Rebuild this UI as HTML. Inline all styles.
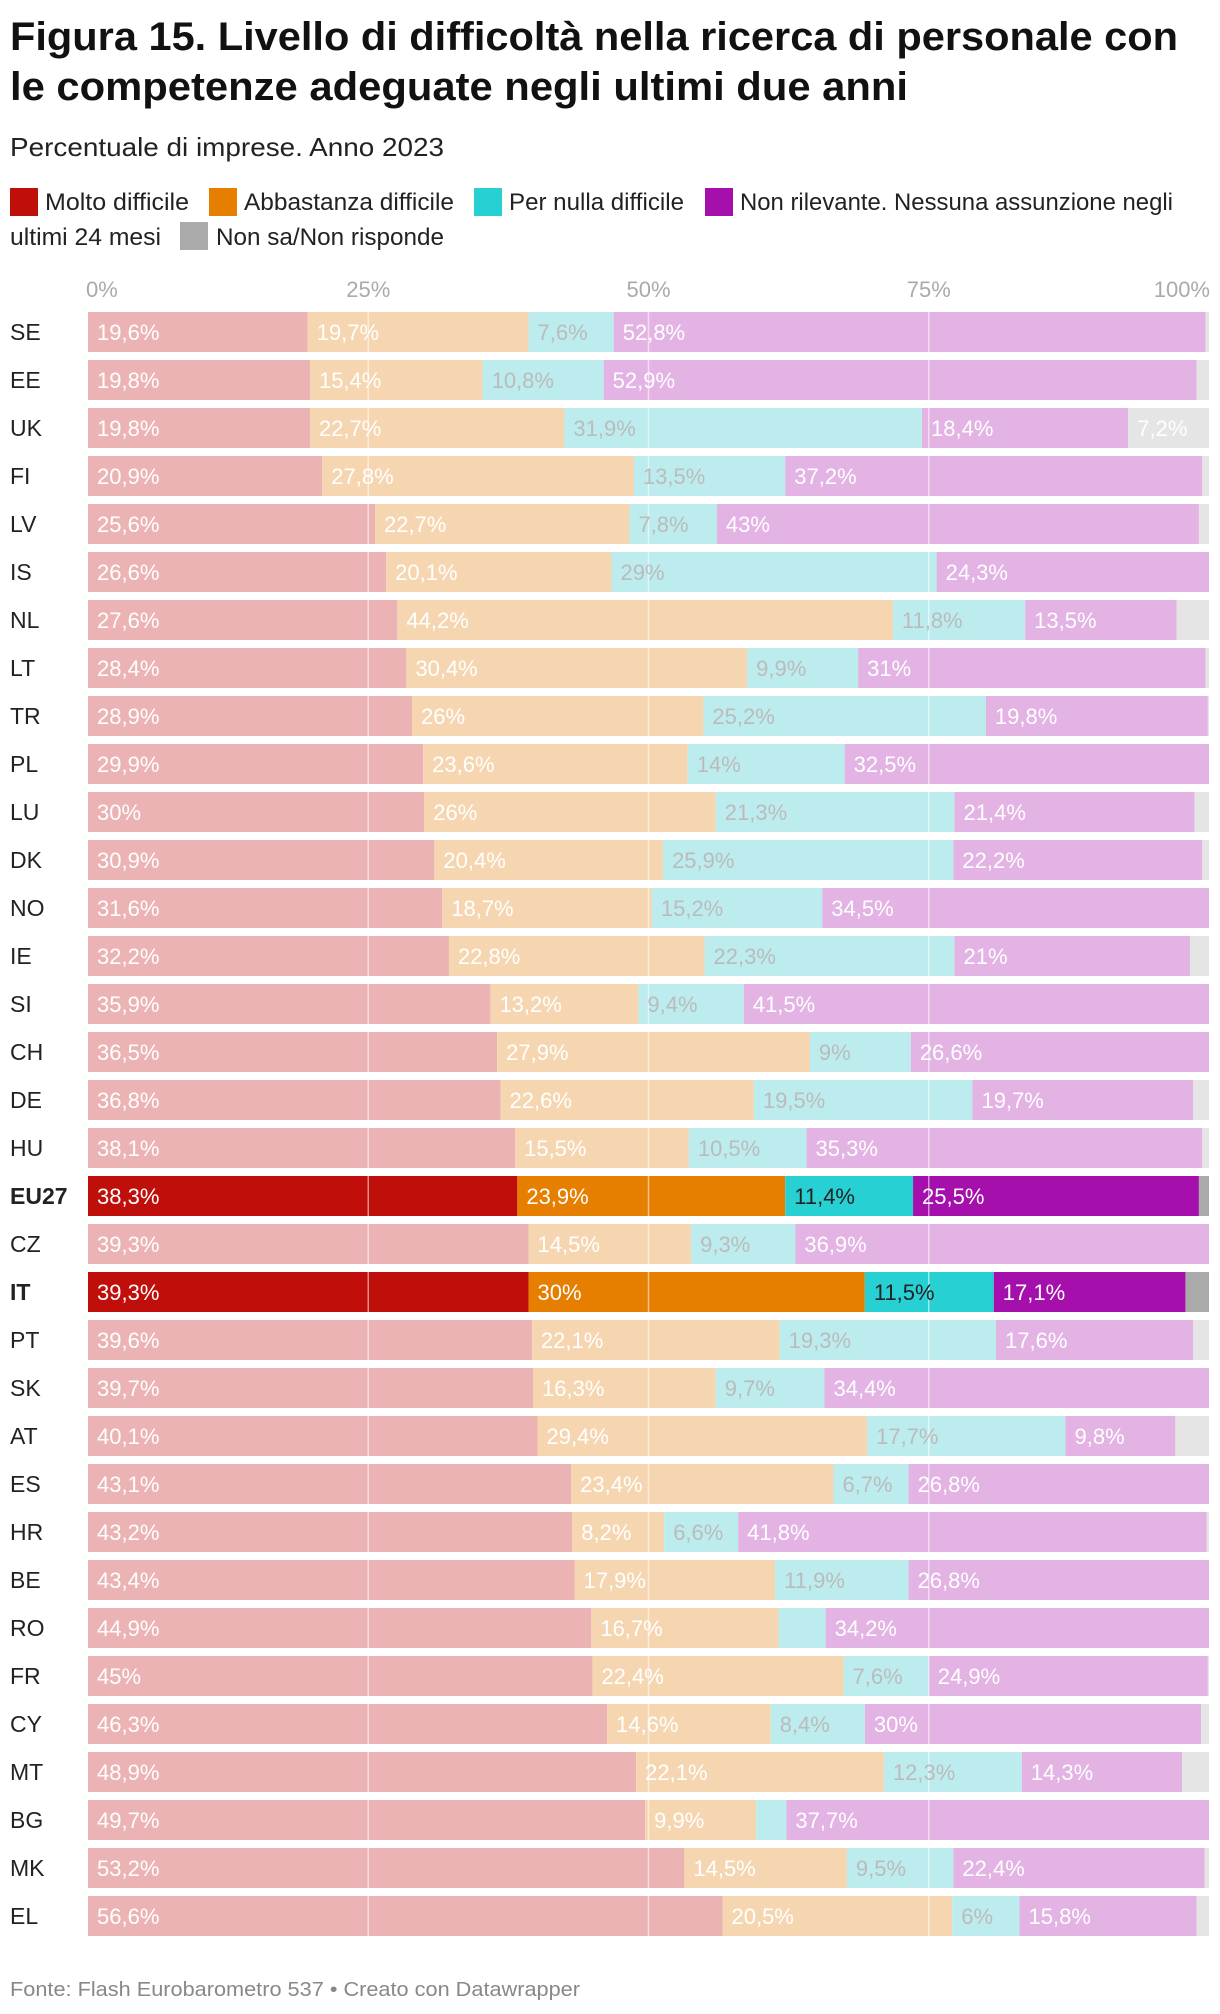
<!DOCTYPE html>
<html><head><meta charset="utf-8"><style>
html,body{margin:0;padding:0;background:#fff;}
svg{display:block;font-family:"Liberation Sans",sans-serif;}
</style></head><body>
<svg id="chart" width="1220" height="2014" viewBox="0 0 1220 2014" xmlns="http://www.w3.org/2000/svg">
<text x="10" y="50" font-size="40" font-weight="bold" fill="#111" textLength="1168" lengthAdjust="spacingAndGlyphs">Figura 15. Livello di difficoltà nella ricerca di personale con</text>
<text x="10" y="100" font-size="40" font-weight="bold" fill="#111" textLength="898" lengthAdjust="spacingAndGlyphs">le competenze adeguate negli ultimi due anni</text>
<text x="10" y="156" font-size="26" fill="#222" textLength="434" lengthAdjust="spacingAndGlyphs">Percentuale di imprese. Anno 2023</text>
<g font-size="24" fill="#222">
<rect x="10" y="188" width="28" height="28" fill="#c00f0b"/>
<text x="45" y="210" textLength="144" lengthAdjust="spacingAndGlyphs">Molto difficile</text>
<rect x="209" y="188" width="28" height="28" fill="#e67e00"/>
<text x="244" y="210" textLength="210" lengthAdjust="spacingAndGlyphs">Abbastanza difficile</text>
<rect x="474" y="188" width="28" height="28" fill="#27d0d3"/>
<text x="509" y="210" textLength="175" lengthAdjust="spacingAndGlyphs">Per nulla difficile</text>
<rect x="705" y="188" width="28" height="28" fill="#a50fab"/>
<text x="740" y="210" textLength="433" lengthAdjust="spacingAndGlyphs">Non rilevante. Nessuna assunzione negli</text>
<text x="10" y="245" textLength="151" lengthAdjust="spacingAndGlyphs">ultimi 24 mesi</text>
<rect x="180" y="222" width="28" height="28" fill="#aaaaaa"/>
<text x="216" y="245" textLength="228" lengthAdjust="spacingAndGlyphs">Non sa/Non risponde</text>
</g>
<g id="axis"></g>
<g id="bars"></g>
<g id="grid"></g>
<g id="labels"></g>
<text x="10" y="1996" font-size="20" fill="#888" textLength="570" lengthAdjust="spacingAndGlyphs">Fonte: Flash Eurobarometro 537 • Creato con Datawrapper</text>
</svg>
<script>
const countries = ["SE","EE","UK","FI","LV","IS","NL","LT","TR","PL","LU","DK","NO","IE","SI","CH","DE","HU","EU27","CZ","IT","PT","SK","AT","ES","HR","BE","RO","FR","CY","MT","BG","MK","EL"];
const molto = [19.6,19.8,19.8,20.9,25.6,26.6,27.6,28.4,28.9,29.9,30,30.9,31.6,32.2,35.9,36.5,36.8,38.1,38.3,39.3,39.3,39.6,39.7,40.1,43.1,43.2,43.4,44.9,45,46.3,48.9,49.7,53.2,56.6];
const abbastanza = [19.7,15.4,22.7,27.8,22.7,20.1,44.2,30.4,26,23.6,26,20.4,18.7,22.8,13.2,27.9,22.6,15.5,23.9,14.5,30,22.1,16.3,29.4,23.4,8.2,17.9,16.7,22.4,14.6,22.1,9.9,14.5,20.5];
const perNulla = [7.6,10.8,31.9,13.5,7.8,29,11.8,9.9,25.2,14,21.3,25.9,15.2,22.3,9.4,9,19.5,10.5,11.4,9.3,11.5,19.3,9.7,17.7,6.7,6.6,11.9,4.2,7.6,8.4,12.3,2.7,9.5,6];
const nonRilevante = [52.8,52.9,18.4,37.2,43,24.3,13.5,31,19.8,32.5,21.4,22.2,34.5,21,41.5,26.6,19.7,35.3,25.5,36.9,17.1,17.6,34.4,9.8,26.8,41.8,26.8,34.2,24.9,30,14.3,37.7,22.4,15.8];
const highlighted = ["EU27","IT"];
const ticks = [0,25,50,75,100];

const NS="http://www.w3.org/2000/svg";
const X0=88, W=1121, TOP=312, PITCH=48, BH=40;
function xs(v){return X0+v/100*W;}
function ys(i){return TOP+i*PITCH;}
function mk(tag,attrs,parent){const e=document.createElementNS(NS,tag);for(const k in attrs)e.setAttribute(k,attrs[k]);parent.appendChild(e);return e;}
const fmt=v=>String(Math.round(v*10)/10).replace('.',',')+'%';
const axis=document.getElementById('axis'),bars=document.getElementById('bars'),grid=document.getElementById('grid'),labels=document.getElementById('labels');
ticks.forEach((t,i)=>{
  const anchor=i===0?'start':(i===ticks.length-1?'end':'middle');
  const tx=i===0?xs(t)-2:xs(t)+(i===ticks.length-1?1:0);
  const el=mk('text',{x:tx,y:297,'font-size':22,fill:'#aaa','text-anchor':anchor},axis);
  
  
  el.textContent=t+'%';
});
const faded=['#ebb3b3','#f6d6b1','#bcecee','#e3b3e3','#e5e5e5'];
const strong=['#c00f0b','#e67e00','#27d0d3','#a50fab','#aaaaaa'];
const segNames=['molto','abbastanza','per-nulla','non-rilevante','non-sa'];
countries.forEach((c,i)=>{
  const hl=highlighted.includes(c);
  const y=ys(i);
  const rl=mk('text',{x:10,y:y+28,'font-size':23,fill:'#222','font-weight':hl?'bold':'normal'},labels);
  
  
  rl.textContent=c;
  const s=[molto[i],abbastanza[i],perNulla[i],nonRilevante[i]];
  const sum=s.reduce((a,b)=>a+b,0);
  s.push(Math.max(0,100-sum));
  let acc=0;
  s.forEach((v,k)=>{
    if(v<=0)return;
    const x1=xs(acc),x2=xs(Math.min(100,acc+v));
    const r=mk('rect',{x:x1,y:y,width:Math.max(0,x2-x1),height:BH,fill:hl?strong[k]:faded[k]},bars);
    
    
    const show=(k<4&&v>=5)||(k===4&&v>=5);
    if(show){
      let col='#fff';
      if(k===2) col=hl?'#222':'#bbb';
      const t=mk('text',{x:x1+9,y:y+28,'font-size':22,fill:col},labels);
      
      
      t.textContent=fmt(v);
    }
    acc+=v;
  });
});
[25,50,75].forEach(t=>{
  const l=mk('line',{x1:xs(t),x2:xs(t),y1:TOP,y2:ys(countries.length-1)+BH,stroke:'#fff','stroke-width':1.5,'stroke-opacity':0.55},grid);
  
  
});
</script>
</body></html>
